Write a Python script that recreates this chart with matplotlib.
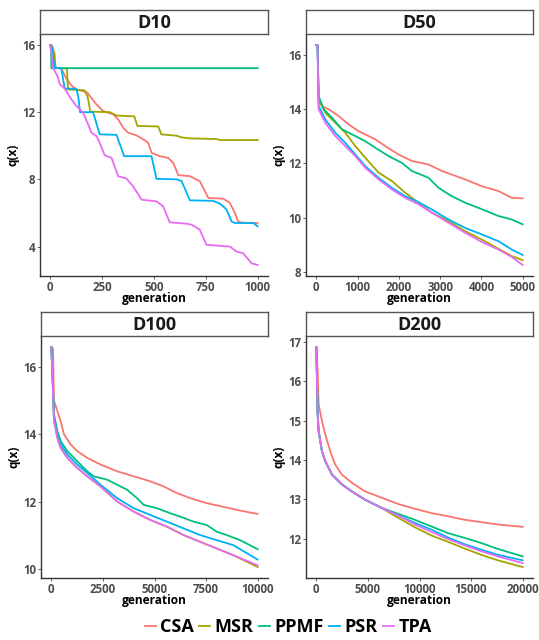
import matplotlib
matplotlib.use("Agg")
import matplotlib.pyplot as plt
from matplotlib.lines import Line2D

plt.rcParams['font.family'] = ['Open Sans', 'DejaVu Sans']

methods = ["CSA", "MSR", "PPMF", "PSR", "TPA"]
colors = ["#F8766D", "#A3A500", "#00BF7D", "#00B0F6", "#E76BF3"]
panels = ["D10", "D50", "D100", "D200"]

# ---------------- D10 ----------------
d10_csa_x = [0, 5, 20, 53, 77, 101, 126, 150, 174, 182, 222, 254, 303, 327, 351, 375, 415, 448, 472, 488, 528, 568, 593, 617, 673, 721, 762, 834, 866, 890, 906, 923, 1000]
d10_csa_y = [16.0, 16.0, 14.65, 14.6, 14.0, 13.6, 13.35, 13.27, 13.2, 13.1, 12.47, 12.07, 11.87, 11.57, 11.08, 10.78, 10.62, 10.38, 10.18, 9.58, 9.38, 9.28, 8.98, 8.25, 8.19, 7.89, 6.89, 6.85, 6.6, 6.0, 5.5, 5.42, 5.4]
d10_msr_x = [0, 10, 20, 25, 80, 85, 165, 180, 193, 287, 319, 405, 420, 520, 536, 609, 633, 673, 802, 818, 1000]
d10_msr_y = [15.9, 15.9, 15.5, 14.65, 14.6, 13.35, 13.3, 12.9, 12.03, 12.0, 11.8, 11.75, 11.18, 11.15, 10.68, 10.6, 10.5, 10.44, 10.4, 10.34, 10.34]
d10_ppmf_x = [0, 3, 5, 1000]
d10_ppmf_y = [16.0, 16.0, 14.62, 14.62]
d10_psr_x = [0, 5, 21, 53, 69, 125, 135, 143, 206, 238, 319, 356, 488, 512, 609, 633, 673, 786, 818, 842, 850, 874, 890, 979, 1000]
d10_psr_y = [16.0, 16.0, 14.65, 14.6, 13.4, 13.4, 12.9, 12.0, 12.0, 10.68, 10.65, 9.38, 9.38, 8.03, 8.0, 7.9, 6.75, 6.72, 6.55, 6.3, 6.2, 5.5, 5.4, 5.4, 5.2]
d10_tpa_x = [0, 13, 37, 45, 69, 101, 126, 158, 182, 198, 222, 238, 262, 295, 327, 367, 399, 440, 512, 544, 576, 657, 681, 721, 753, 866, 898, 930, 971, 1000]
d10_tpa_y = [16.0, 14.65, 14.07, 13.67, 13.41, 12.77, 12.37, 11.97, 11.28, 10.78, 10.58, 10.18, 9.44, 9.28, 8.19, 8.05, 7.59, 6.79, 6.69, 6.39, 5.44, 5.36, 5.30, 5.0, 4.1, 4.0, 3.7, 3.6, 3.0, 2.9]

# ---------------- D50 ----------------
d50_csa_x = [0, 30, 56, 137, 298, 540, 782, 1024, 1427, 1669, 1992, 2315, 2718, 3040, 3605, 4008, 4411, 4734, 5000]
d50_csa_y = [16.37, 16.37, 14.36, 14.1, 14.0, 13.75, 13.44, 13.19, 12.89, 12.64, 12.33, 12.09, 11.96, 11.72, 11.41, 11.16, 10.98, 10.73, 10.71]
d50_msr_x = [0, 30, 56, 218, 460, 702, 944, 1186, 1508, 1831, 2153, 2476, 2799, 3202, 3605, 4008, 4411, 4734, 5000]
d50_msr_y = [16.37, 16.37, 14.36, 13.87, 13.5, 13.13, 12.64, 12.21, 11.66, 11.35, 10.92, 10.55, 10.18, 9.87, 9.5, 9.19, 8.85, 8.58, 8.43]
d50_ppmf_x = [0, 30, 56, 177, 379, 621, 944, 1186, 1427, 1750, 2073, 2315, 2718, 2960, 3282, 3605, 3928, 4411, 4734, 5000]
d50_ppmf_y = [16.37, 16.37, 14.49, 14.0, 13.69, 13.26, 13.01, 12.82, 12.58, 12.27, 12.02, 11.72, 11.47, 11.1, 10.79, 10.55, 10.36, 10.06, 9.93, 9.75]
d50_psr_x = [0, 30, 56, 218, 460, 702, 944, 1186, 1508, 1831, 2153, 2476, 2799, 3202, 3605, 4008, 4411, 4734, 5000]
d50_psr_y = [16.37, 16.37, 14.12, 13.62, 13.13, 12.76, 12.33, 11.9, 11.47, 11.1, 10.79, 10.57, 10.3, 9.93, 9.62, 9.38, 9.13, 8.82, 8.62]
d50_tpa_x = [0, 30, 56, 218, 460, 702, 944, 1186, 1508, 1831, 2153, 2476, 2799, 3202, 3605, 4008, 4411, 4734, 5000]
d50_tpa_y = [16.37, 16.37, 14.0, 13.5, 13.01, 12.64, 12.27, 11.84, 11.41, 11.04, 10.73, 10.49, 10.18, 9.81, 9.44, 9.1, 8.82, 8.55, 8.25]

# ---------------- D100 ----------------
d100_csa_x = [0, 80, 129, 290, 451, 612, 934, 1256, 1739, 2383, 3188, 3993, 4798, 5442, 6086, 6730, 7535, 8501, 9145, 10000]
d100_csa_y = [16.6, 16.55, 15.0, 14.7, 14.4, 14.0, 13.7, 13.5, 13.3, 13.1, 12.9, 12.75, 12.6, 12.45, 12.25, 12.1, 11.95, 11.82, 11.73, 11.63]
d100_msr_x = [0, 48, 129, 290, 451, 773, 1256, 1739, 2383, 3188, 3993, 4798, 5603, 6408, 7213, 8018, 8823, 10000]
d100_msr_y = [16.6, 15.9, 14.4, 13.9, 13.6, 13.3, 13.0, 12.75, 12.45, 12.0, 11.7, 11.45, 11.25, 11.0, 10.8, 10.6, 10.4, 10.05]
d100_ppmf_x = [0, 48, 129, 290, 451, 773, 1256, 1739, 2061, 2705, 3188, 3671, 4154, 4476, 5120, 5764, 6247, 6891, 7535, 8018, 8501, 9145, 10000]
d100_ppmf_y = [16.6, 15.9, 14.6, 14.1, 13.8, 13.5, 13.2, 12.9, 12.75, 12.65, 12.5, 12.35, 12.1, 11.9, 11.8, 11.65, 11.55, 11.4, 11.3, 11.1, 11.0, 10.85, 10.58]
d100_psr_x = [0, 48, 129, 290, 451, 773, 1256, 1739, 2383, 3188, 3993, 4798, 5603, 6408, 7213, 8018, 8823, 10000]
d100_psr_y = [16.6, 15.9, 14.5, 14.0, 13.7, 13.4, 13.1, 12.85, 12.5, 12.1, 11.8, 11.6, 11.4, 11.2, 11.0, 10.85, 10.7, 10.27]
d100_tpa_x = [0, 48, 129, 290, 451, 773, 1256, 1739, 2383, 3188, 3993, 4798, 5603, 6408, 7213, 8018, 8823, 10000]
d100_tpa_y = [16.6, 15.9, 14.4, 13.9, 13.6, 13.3, 13.0, 12.75, 12.45, 12.0, 11.7, 11.45, 11.25, 11.0, 10.8, 10.6, 10.4, 10.1]

# ---------------- D200 ----------------
d200_csa_x = [0, 129, 225, 547, 868, 1350, 1833, 2476, 3440, 4726, 6334, 7941, 9549, 11156, 12764, 14371, 15979, 17586, 20000]
d200_csa_y = [16.87, 16.26, 15.41, 14.99, 14.65, 14.22, 13.88, 13.63, 13.42, 13.2, 13.04, 12.88, 12.76, 12.65, 12.57, 12.48, 12.42, 12.36, 12.3]
d200_msr_x = [0, 129, 225, 547, 868, 1511, 2476, 3440, 4726, 6334, 7941, 9549, 11156, 12764, 14371, 15979, 17586, 20000]
d200_msr_y = [16.87, 15.16, 14.73, 14.22, 13.97, 13.63, 13.38, 13.2, 12.99, 12.78, 12.53, 12.29, 12.08, 11.92, 11.75, 11.59, 11.45, 11.28]
d200_ppmf_x = [0, 129, 225, 547, 868, 1511, 2476, 3440, 4726, 6334, 7941, 9549, 11156, 12764, 14371, 15979, 17586, 20000]
d200_ppmf_y = [16.87, 15.16, 14.73, 14.22, 13.97, 13.63, 13.38, 13.2, 12.99, 12.78, 12.63, 12.48, 12.31, 12.14, 12.02, 11.89, 11.74, 11.55]
d200_psr_x = [0, 129, 225, 547, 868, 1511, 2476, 3440, 4726, 6334, 7941, 9549, 11156, 12764, 14371, 15979, 17586, 20000]
d200_psr_y = [16.87, 15.16, 14.73, 14.22, 13.97, 13.63, 13.38, 13.2, 12.99, 12.78, 12.59, 12.4, 12.23, 12.03, 11.86, 11.72, 11.59, 11.45]
d200_tpa_x = [0, 129, 225, 547, 868, 1511, 2476, 3440, 4726, 6334, 7941, 9549, 11156, 12764, 14371, 15979, 17586, 20000]
d200_tpa_y = [16.87, 15.16, 14.73, 14.22, 13.97, 13.63, 13.38, 13.2, 12.99, 12.78, 12.59, 12.36, 12.17, 11.99, 11.83, 11.68, 11.55, 11.38]

data = {
    "D10": [(d10_csa_x, d10_csa_y), (d10_msr_x, d10_msr_y), (d10_ppmf_x, d10_ppmf_y), (d10_psr_x, d10_psr_y), (d10_tpa_x, d10_tpa_y)],
    "D50": [(d50_csa_x, d50_csa_y), (d50_msr_x, d50_msr_y), (d50_ppmf_x, d50_ppmf_y), (d50_psr_x, d50_psr_y), (d50_tpa_x, d50_tpa_y)],
    "D100": [(d100_csa_x, d100_csa_y), (d100_msr_x, d100_msr_y), (d100_ppmf_x, d100_ppmf_y), (d100_psr_x, d100_psr_y), (d100_tpa_x, d100_tpa_y)],
    "D200": [(d200_csa_x, d200_csa_y), (d200_msr_x, d200_msr_y), (d200_ppmf_x, d200_ppmf_y), (d200_psr_x, d200_psr_y), (d200_tpa_x, d200_tpa_y)],
}
xticks = {"D10": [0, 250, 500, 750, 1000], "D50": [0, 1000, 2000, 3000, 4000, 5000],
          "D100": [0, 2500, 5000, 7500, 10000], "D200": [0, 5000, 10000, 15000, 20000]}
yticks = {"D10": [4, 8, 12, 16], "D50": [8, 10, 12, 14, 16],
          "D100": [10, 12, 14, 16], "D200": [12, 13, 14, 15, 16, 17]}

W, H = 539, 640
fig = plt.figure(figsize=(W / 100, H / 100), dpi=100)

# panel pixel boxes: left, right, strip top, strip bottom, axes bottom
boxes = {"D10": (40, 268, 10, 34, 276), "D50": (306, 533, 10, 34, 276),
         "D100": (41, 268, 312, 336, 578), "D200": (306, 533, 312, 336, 578)}

for name in panels:
    l, r, st, sb, b = boxes[name]
    ax = fig.add_axes([l / W, 1 - b / H, (r - l) / W, (b - sb) / H])
    ally = []
    for (xs, ys), c in zip(data[name], colors):
        ax.plot(xs, ys, color=c, lw=1.3, solid_joinstyle='round')
        ally += ys
    xmax = xticks[name][-1]
    ax.set_xlim(-0.05 * xmax, 1.05 * xmax)
    lo, hi = min(ally), max(ally)
    pad = 0.05 * (hi - lo)
    ax.set_ylim(lo - pad, hi + pad)
    ax.set_xticks(xticks[name])
    ax.set_yticks(yticks[name])
    ax.set_xticklabels([str(v) for v in xticks[name]])
    ax.tick_params(axis='both', labelsize=8.3, colors='#4D4D4D', length=2.5, width=0.6, pad=1.0)
    for lab in ax.get_xticklabels() + ax.get_yticklabels():
        lab.set_fontweight('bold')
    for s in ['top', 'right']:
        ax.spines[s].set_visible(False)
    for s in ['left', 'bottom']:
        ax.spines[s].set_linewidth(1.0)
        ax.spines[s].set_color('#333333')
    ax.set_xlabel("generation", fontsize=8.6, fontweight='bold', labelpad=-1)
    ax.set_ylabel("q(x)", fontsize=8.6, fontweight='bold', labelpad=2)
    # strip
    sax = fig.add_axes([l / W, 1 - sb / H, (r - l) / W, (sb - st) / H])
    sax.set_xticks([]); sax.set_yticks([])
    sax.set_facecolor('white')
    for s in sax.spines.values():
        s.set_color('#555555'); s.set_linewidth(1.0)
    sax.text(0.5, 0.47, name, ha='center', va='center', fontsize=13, fontweight='bold', color='#1A1A1A')

handles = [Line2D([0], [0], color=c, lw=1.3) for c in colors]
fig.legend(handles, methods, loc='center', bbox_to_anchor=(0.535, 1 - 627 / H), ncol=5, frameon=False,
           prop={'weight': 'bold', 'size': 13.0}, handlelength=0.6, handletextpad=0.25, columnspacing=0.3)

fig.savefig("out.png", dpi=100)
